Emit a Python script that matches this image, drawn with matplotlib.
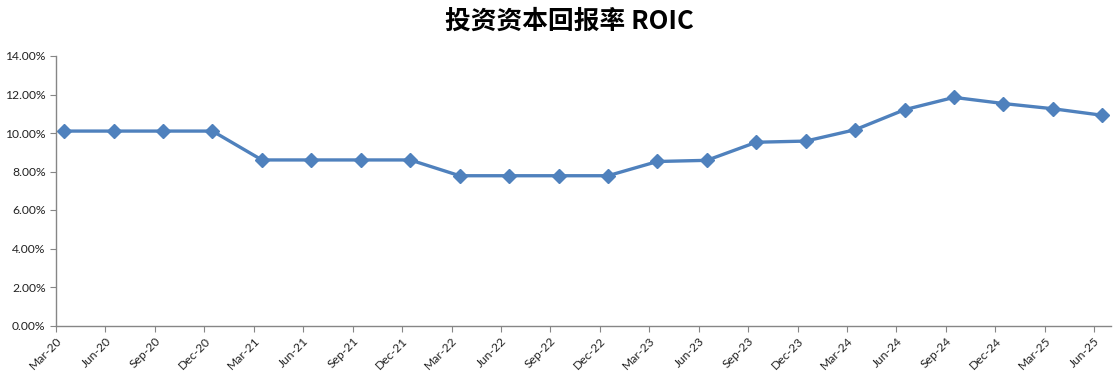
import matplotlib.pyplot as plt
from matplotlib.ticker import FuncFormatter

plt.rcParams['font.family'] = ['Lato', 'DejaVu Sans']

quarters = ['Mar-20', 'Jun-20', 'Sep-20', 'Dec-20',
            'Mar-21', 'Jun-21', 'Sep-21', 'Dec-21',
            'Mar-22', 'Jun-22', 'Sep-22', 'Dec-22',
            'Mar-23', 'Jun-23', 'Sep-23', 'Dec-23',
            'Mar-24', 'Jun-24', 'Sep-24', 'Dec-24',
            'Mar-25', 'Jun-25']
roic = [10.10, 10.10, 10.10, 10.10,
        8.60, 8.60, 8.60, 8.60,
        7.78, 7.78, 7.78, 7.78,
        8.52, 8.58, 9.52, 9.58,
        10.17, 11.21, 11.85, 11.53,
        11.26, 10.92]

fig = plt.figure(figsize=(11.19, 3.81), dpi=100)
ax = fig.add_axes([56 / 1119, 55.5 / 381, 1055 / 1119, 269.5 / 381])

# points sit a bit right of the tick marks, like the excel date axis
xs = [i + 0.165 for i in range(len(roic))]
ax.plot(xs, roic, color='#4F81BD', linewidth=2.4, marker='D', markersize=7)

ax.set_xlim(0, 21.34)
ax.set_ylim(0, 14)
ax.set_yticks([0, 2, 4, 6, 8, 10, 12, 14])
ax.yaxis.set_major_formatter(FuncFormatter(lambda v, p: '%.2f%%' % v))
ax.set_xticks(range(len(quarters)))
ax.set_xticklabels(quarters, rotation=45, ha='right', rotation_mode='anchor')

for s in ['top', 'right']:
    ax.spines[s].set_visible(False)
for s in ['left', 'bottom']:
    ax.spines[s].set_color('#868686')
    ax.spines[s].set_linewidth(1.0)
ax.tick_params(axis='both', direction='out', length=4, color='#868686',
               labelsize=8.7, labelcolor='#222222')
ax.tick_params(axis='x', pad=3)

fig.text(569 / 1119, 1 - 21 / 381, '投资资本回报率 ROIC', ha='center', va='center',
         fontsize=18.5, fontweight='bold',
         family=['Noto Sans CJK SC', 'DejaVu Sans'])

plt.savefig('out.png', dpi=100)
